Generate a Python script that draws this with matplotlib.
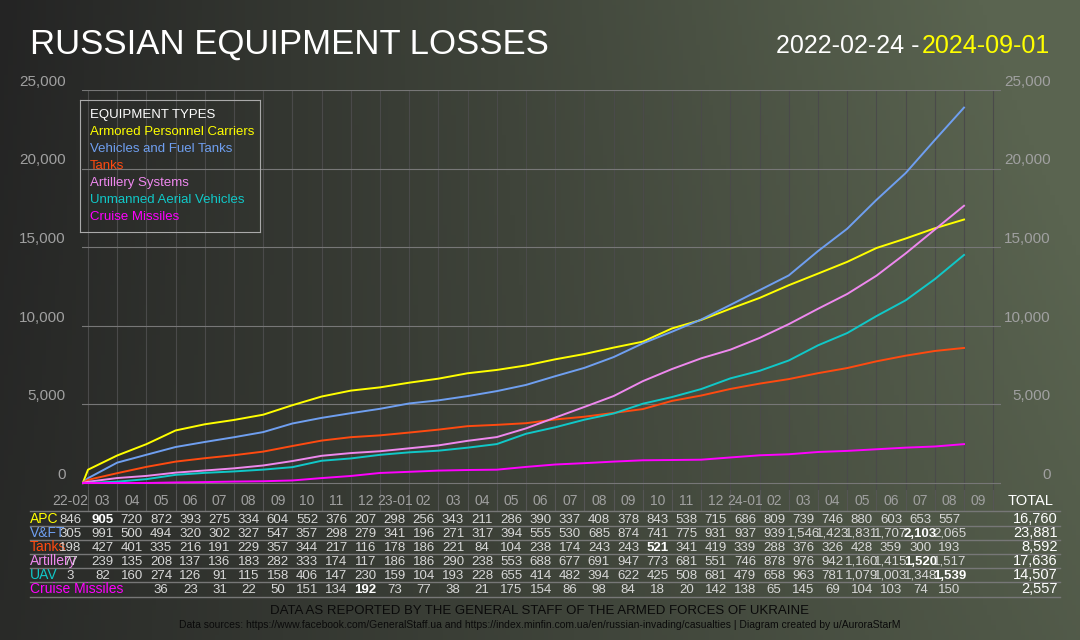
import numpy as np
import matplotlib
matplotlib.use("Agg")
import matplotlib.pyplot as plt
import matplotlib.transforms as mtransforms

months = ["22-02","03","04","05","06","07","08","09","10","11","12",
          "23-01","02","03","04","05","06","07","08","09","10","11","12",
          "24-01","02","03","04","05","06","07","08","09"]
series_names = ["APC","V&FT","Tanks","Artillery","UAV","Cruise Missiles"]
legend_names = ["Armored Personnel Carriers","Vehicles and Fuel Tanks","Tanks",
                "Artillery Systems","Unmanned Aerial Vehicles","Cruise Missiles"]
colors = ["#ffff00","#6f9ff0","#ff4a10","#ee88ee","#10c8c8","#ff00ff"]

apc = [846,905,720,872,393,275,334,604,552,376,207,298,256,343,211,286,390,337,408,378,843,538,715,686,809,739,746,880,603,653,557]
vft = [305,991,500,494,320,302,327,547,357,298,279,341,196,271,317,394,555,530,685,874,741,775,931,937,939,1546,1423,1831,1707,2103,2065]
tanks = [198,427,401,335,216,191,229,357,344,217,116,178,186,221,84,104,238,174,243,243,521,341,419,339,288,376,326,428,359,300,193]
art = [77,239,135,208,137,136,183,282,333,174,117,186,186,290,238,553,688,677,691,947,773,681,551,746,878,976,942,1160,1415,1520,1517]
uav = [3,82,160,274,126,91,115,158,406,147,230,159,104,193,228,655,414,482,394,622,425,508,681,479,658,963,781,1079,1003,1348,1539]
cruise = [None,None,None,36,23,31,22,50,151,134,192,73,77,38,21,175,154,86,98,84,18,20,142,138,65,145,69,104,103,74,150]
totals = ["16,760","23,881","8,592","17,636","14,507","2,557"]
data = [apc, vft, tanks, art, uav, cruise]

W, H = 1080, 640
fig = plt.figure(figsize=(10.8, 6.4), dpi=100)
plt.rcParams['font.family'] = ['Liberation Sans', 'DejaVu Sans']

bg = fig.add_axes([0, 0, 1, 1], zorder=-10)
gx = np.linspace(0, 1, 256)
gy = np.linspace(0, 1, 128)
GX, GY = np.meshgrid(gx, gy)
t = np.clip(0.75 * GX + 0.35 * (1 - GY) * GX + 0.1 * GY, 0, 1)
c0 = np.array([0x24, 0x24, 0x24]) / 255
c1 = np.array([0x5a, 0x64, 0x50]) / 255
img = c0[None, None, :] * (1 - t[..., None]) + c1[None, None, :] * t[..., None]
bg.imshow(img, aspect="auto", extent=[0, 1, 0, 1], origin="upper")
bg.axis("off")

def fx(px): return px / W
def fy(py): return 1 - py / H

ax = fig.add_axes([fx(82), fy(490), fx(1001) - fx(82), fy(90) - fy(490)])
ax.set_facecolor("none")
mw = 29.2
x0 = 88
ax.set_xlim((82 - x0) / mw, (1001 - x0) / mw)
ax.set_ylim(-445, 25000)
for s in ax.spines.values():
    s.set_visible(False)
ax.set_xticks([]); ax.set_yticks([])

for k in range(0, 32):
    ax.axvline(k, color="#4a4a4a", lw=0.8, zorder=0)
btr = mtransforms.blended_transform_factory(ax.transAxes, ax.transData)
for yv in range(0, 25001, 5000):
    ax.axhline(yv, color="#777777", lw=0.8, zorder=0)
    lab = f"{yv:,}"
    ax.text(-0.018, yv + 80, lab, transform=btr, ha="right", va="bottom", color="#a0a0a0", fontsize=11)
    ax.text(1.054, yv + 80, lab, transform=btr, ha="right", va="bottom", color="#a0a0a0", fontsize=11)

start = -5 / 28
for vals, c in zip(data, colors):
    v = [0 if a is None else a for a in vals]
    xs = [start] + list(range(0, len(v)))
    ys = [0] + list(np.cumsum(v))
    ax.plot(xs, ys, color=c, lw=1.4, zorder=3)

leg_ax = fig.add_axes([fx(80), fy(232), fx(260) - fx(80), fy(100) - fy(232)])
leg_ax.set_facecolor("none")
for s in leg_ax.spines.values():
    s.set_color("#aaaaaa"); s.set_linewidth(0.8)
leg_ax.set_xticks([]); leg_ax.set_yticks([])
fig.text(fx(90), fy(115), "EQUIPMENT TYPES", color="white", fontsize=9.5, va="center")
for i, (n, c) in enumerate(zip(legend_names, colors)):
    fig.text(fx(90), fy(132 + 17 * i), n, color=c, fontsize=9.5, va="center")

fig.text(fx(30), fy(44), "RUSSIAN EQUIPMENT LOSSES", color="white", fontsize=25, va="center")
fig.text(fx(1050), fy(46), "2024-09-01", color="#ffff00", fontsize=18, va="center", ha="right")
fig.text(fx(919), fy(46), "2022-02-24 -", color="white", fontsize=18, va="center", ha="right")

tr = mtransforms.blended_transform_factory(ax.transData, fig.transFigure)
hy = fy(505)
for i, m in enumerate(months):
    xc = -0.6 if i == 0 else i - 0.5
    fig.text(xc, hy, m, transform=tr, color="#a0a0a0", fontsize=10, ha="center", va="baseline")
for k in range(0, 32):
    fig.add_artist(plt.Line2D([k, k], [fy(511), fy(490)], transform=tr, color="#555555", lw=0.8))
fig.text(fx(1008), hy, "TOTAL", color="white", fontsize=10.5, ha="left", va="baseline")
for ly in [511, 526, 540, 554, 568, 582, 597]:
    fig.add_artist(plt.Line2D([fx(30), fx(1060)], [fy(ly), fy(ly)], color="#777777", lw=1))
row_y = [523, 537, 551, 565, 579, 593]
for r, (name, vals, c, tot) in enumerate(zip(series_names, data, colors, totals)):
    yy = fy(row_y[r])
    fig.text(fx(30), yy, name, color=c, fontsize=10, ha="left", va="baseline")
    valid = [a if a is not None else -1 for a in vals]
    mx = int(np.argmax(valid))
    for i, a in enumerate(vals):
        if a is None:
            continue
        xc = -0.6 if i == 0 else i - 0.5
        fig.text(xc, yy, f"{a:,}", transform=tr, color="white" if i == mx else "#d8d8d8",
                 fontsize=9.5, ha="center", va="baseline",
                 fontweight="bold" if i == mx else "normal")
    fig.text(fx(1058), yy, tot, color="white", fontsize=10.5, ha="right", va="baseline")

fig.text(0.5, fy(611), "DATA AS REPORTED BY THE GENERAL STAFF OF THE ARMED FORCES OF UKRAINE",
         color="#0a0a0a", fontsize=9.5, ha="center", va="center")
fig.text(0.5, fy(625), "Data sources: https://www.facebook.com/GeneralStaff.ua and https://index.minfin.com.ua/en/russian-invading/casualties | Diagram created by u/AuroraStarM",
         color="#0a0a0a", fontsize=7.5, ha="center", va="center")

fig.savefig("out.png", dpi=100)
